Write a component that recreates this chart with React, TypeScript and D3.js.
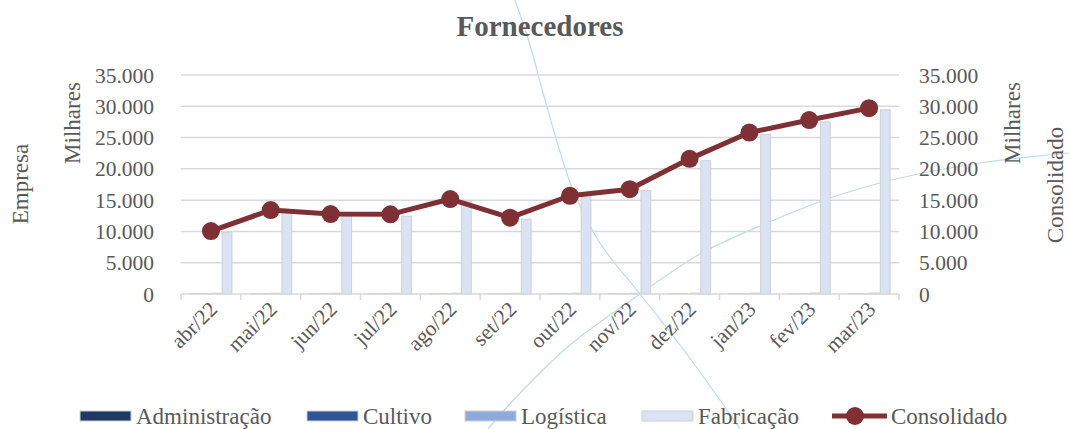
import React from 'react';
import * as d3 from 'd3';

const months = ['abr/22', 'mai/22', 'jun/22', 'jul/22', 'ago/22', 'set/22', 'out/22', 'nov/22', 'dez/22', 'jan/23', 'fev/23', 'mar/23'];
const administracao = [40, 40, 40, 40, 50, 40, 40, 40, 50, 50, 50, 50];
const cultivo = [60, 60, 60, 60, 70, 60, 60, 60, 70, 70, 70, 70];
const logistica = [120, 130, 120, 120, 140, 120, 130, 130, 150, 150, 160, 160];
const fabricacao = [9800, 13150, 12500, 12450, 14900, 11950, 15450, 16500, 21300, 25500, 27500, 29450];
const consolidado = [10050, 13420, 12780, 12730, 15180, 12200, 15700, 16750, 21600, 25800, 27800, 29700];
const yTicks = [0, 5000, 10000, 15000, 20000, 25000, 30000, 35000];

const seriesNames = ['Administração', 'Cultivo', 'Logística', 'Fabricação'];
const seriesColors = ['#1f3864', '#2f5597', '#8faadc', '#dae3f3'];
const seriesValues = [administracao, cultivo, logistica, fabricacao];

const lineColor = '#7f3034';
const textColor = '#595959';
const gridColor = '#d9d9d9';
const font = '"Liberation Serif", "Times New Roman", serif';

const fmt = d3.formatLocale({ decimal: ',', thousands: '.', grouping: [3], currency: ['', ''] }).format(',');

export default function App() {
  const width = 1069;
  const height = 429;
  const margin = { top: 75, right: 170, bottom: 135, left: 181 };

  const x = d3.scaleBand().domain(months).range([margin.left, width - margin.right]);
  const y = d3.scaleLinear().domain([0, 35000]).range([height - margin.bottom, margin.top]);
  const groupW = 43;
  const x1 = d3
    .scaleBand()
    .domain(seriesNames)
    .range([(x.bandwidth() - groupW) / 2, (x.bandwidth() + groupW) / 2]);

  const line = d3
    .line<number>()
    .x((d, i) => (x(months[i]) as number) + x.bandwidth() / 2)
    .y((d) => y(d));

  // decorative arcs of the template background
  const deco = d3.line().curve(d3.curveCatmullRom);
  const arcA: [number, number][] = [[515, 0], [530, 45], [545, 100], [573, 190], [600, 243], [640, 294], [680, 345], [720, 400], [740, 429]];
  const arcB: [number, number][] = [[488, 429], [523, 390], [570, 345], [640, 294], [700, 254], [767, 223], [833, 197], [900, 178], [980, 163], [1069, 153]];

  const legendItems = [
    { name: 'Administração', x: 80 },
    { name: 'Cultivo', x: 307 },
    { name: 'Logística', x: 465 },
    { name: 'Fabricação', x: 642 },
  ];

  const y0 = y(0);

  return (
    <svg width={width} height={height} style={{ position: 'absolute', left: 0, top: 0 }} fontFamily={font}>
      <rect width={width} height={height} fill="#ffffff" />

      <g fill="none" stroke="#bcdce8" strokeWidth={1.2}>
        <path d={deco(arcA) as string} />
        <path d={deco(arcB) as string} />
      </g>

      <text x={540} y={36} textAnchor="middle" fontSize={29} fontWeight="bold" fill={textColor}>
        Fornecedores
      </text>

      {/* gridlines */}
      <g stroke={gridColor} strokeWidth={1.5}>
        {yTicks.slice(1).map((t) => (
          <line key={t} x1={margin.left} x2={width - margin.right} y1={y(t)} y2={y(t)} />
        ))}
      </g>

      {/* bars */}
      {months.map((m, i) => (
        <g key={m} transform={`translate(${x(m)},0)`}>
          {seriesNames.map((s, k) => (
            <rect
              key={s}
              x={(x1(s) as number) + 0.5}
              width={x1.bandwidth() - 1}
              y={y(seriesValues[k][i])}
              height={y0 - y(seriesValues[k][i])}
              fill={seriesColors[k]}
              stroke="#d0d0d0"
              strokeWidth={1}
            />
          ))}
        </g>
      ))}

      {/* x axis */}
      <g stroke={gridColor} strokeWidth={1.5}>
        <line x1={margin.left} x2={width - margin.right} y1={y0} y2={y0} />
        {months.concat(['end']).map((m, i) => {
          const xx = margin.left + i * x.bandwidth();
          return <line key={m} x1={xx} x2={xx} y1={y0} y2={y0 + 6} />;
        })}
      </g>
      <g fontSize={21.5} fill={textColor} textAnchor="end">
        {months.map((m) => (
          <text
            key={m}
            transform={`translate(${(x(m) as number) + x.bandwidth() / 2 - 3},${y0 + 6}) rotate(-45)`}
            dy="0.7em"
          >
            {m}
          </text>
        ))}
      </g>

      {/* y axes */}
      <g fontSize={21.5} fill={textColor}>
        {yTicks.map((t) => (
          <text key={'l' + t} x={154} y={y(t)} dy="0.35em" textAnchor="end">
            {fmt(t)}
          </text>
        ))}
        {yTicks.map((t) => (
          <text key={'r' + t} x={919} y={y(t)} dy="0.35em" textAnchor="start">
            {fmt(t)}
          </text>
        ))}
      </g>
      <g fontSize={23} fill={textColor} textAnchor="middle">
        <text transform="translate(80,123) rotate(-90)">Milhares</text>
        <text transform="translate(28,184) rotate(-90)">Empresa</text>
        <text transform="translate(1020,123) rotate(-90)">Milhares</text>
        <text transform="translate(1063,185) rotate(-90)">Consolidado</text>
      </g>

      {/* consolidado line */}
      <path d={line(consolidado) as string} fill="none" stroke={lineColor} strokeWidth={5} strokeLinejoin="round" />
      {consolidado.map((v, i) => (
        <circle key={i} cx={(x(months[i]) as number) + x.bandwidth() / 2} cy={y(v)} r={9} fill={lineColor} />
      ))}

      {/* legend */}
      <g fontSize={23} fill={textColor}>
        {legendItems.map((it, k) => (
          <g key={it.name}>
            <rect x={it.x} y={411} width={51} height={10} fill={seriesColors[k]} stroke="#d0d0d0" strokeWidth={1} />
            <text x={it.x + 56} y={424}>{it.name}</text>
          </g>
        ))}
        <line x1={832} x2={887} y1={416} y2={416} stroke={lineColor} strokeWidth={5} />
        <circle cx={855} cy={416} r={9} fill={lineColor} />
        <text x={891} y={424}>Consolidado</text>
      </g>
    </svg>
  );
}
